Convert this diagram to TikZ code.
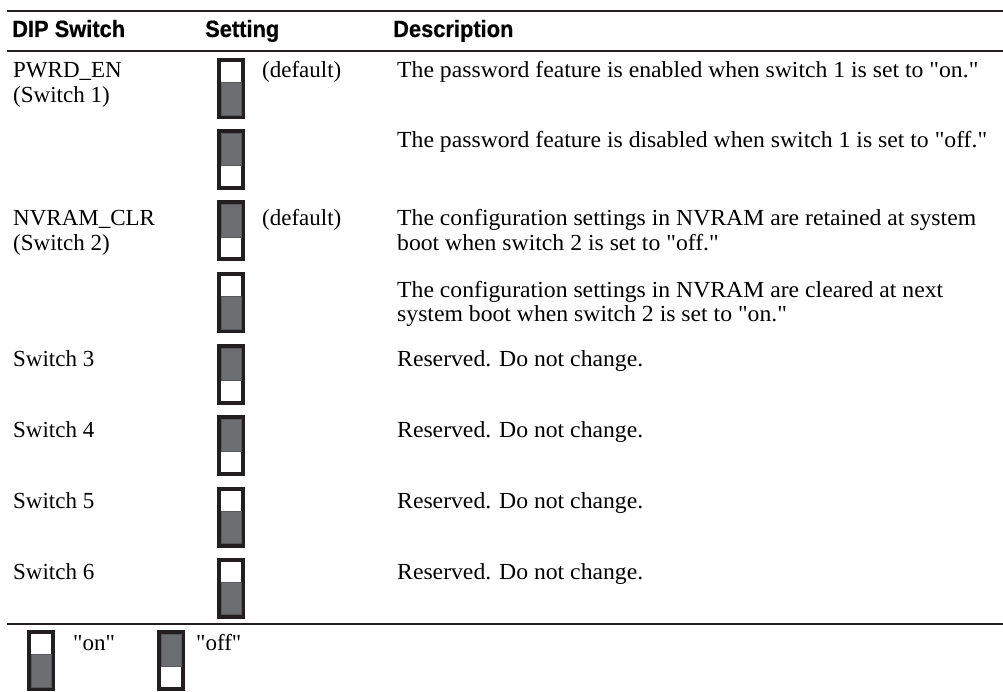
\documentclass[tikz,border=0pt]{standalone}
\usepackage{fontspec}
\setmainfont{Liberation Serif}[Ligatures=TeXOff]
\newfontfamily\descfont{Liberation Serif}[Ligatures=TeXOff, FakeStretch=1.03]
\newfontfamily\hdrfont{Liberation Sans Bold}[FakeStretch=0.93, FakeBold=0.6]
\definecolor{swdark}{HTML}{231F20}
\definecolor{swgray}{HTML}{6D6E71}
\definecolor{swedge}{HTML}{58595B}
\tikzset{
  body/.style={anchor=base west, inner sep=0pt, font=\fontsize{23}{24.5}\selectfont},
  desc/.style={anchor=base west, inner sep=0pt, font=\descfont\fontsize{23}{24.5}\selectfont},
  hdr/.style={anchor=base west, inner sep=0pt, font=\hdrfont\fontsize{23.5}{26}\selectfont},
  rule/.style={line width=2pt, swdark},
  swon/.pic={
    \fill[swdark] (0,0) rectangle (28,61);
    \fill[white] (4,4) rectangle (24,24.5);
    \filldraw[fill=swgray, draw=swedge, line width=0.8pt] (4,24.5) rectangle (24,57);
  },
  swoff/.pic={
    \fill[swdark] (0,0) rectangle (28,61);
    \fill[white] (4,36.5) rectangle (24,57);
    \filldraw[fill=swgray, draw=swedge, line width=0.8pt] (4,4) rectangle (24,36.5);
  }
}
\begin{document}
\begin{tikzpicture}[x=1pt,y=-1pt]
\useasboundingbox[fill=white] (0,0) rectangle (1003,692);
% rules
\coordinate (r1a) at (7,11);   \coordinate (r1b) at (1003,11);
\coordinate (r2a) at (7,51.5); \coordinate (r2b) at (1003,51.5);
\coordinate (r3a) at (7,624);  \coordinate (r3b) at (1003,624);
\draw[rule] (r1a) -- (r1b);
\draw[rule] (r2a) -- (r2b);
\draw[rule] (r3a) -- (r3b);
% header
\node[hdr] (h1) at (12,37) {DIP Switch};
\node[hdr] (h2) at (205,37) {Setting};
\node[hdr] (h3) at (393,37) {Description};
% row 1
\node[body] (n1a) at (13,78) {PWRD\_EN};
\node[body] (n1b) at (13,102.5) {(Switch 1)};
\pic at (217,58) {swon};
\node[body] (d1) at (262,78) {(default)};
\node[desc] (t1) at (397,78) {The password feature is enabled when switch 1 is set to "on."};
% row 2
\pic at (217,129) {swoff};
\node[desc] (t2) at (397,148) {The password feature is disabled when switch 1 is set to "off."};
% row 3
\node[body] (n3a) at (13,226) {NVRAM\_CLR};
\node[body] (n3b) at (13,250.5) {(Switch 2)};
\pic at (217,200.5) {swoff};
\node[body] (d3) at (262,226) {(default)};
\node[desc] (t3a) at (397,226) {The configuration settings in NVRAM are retained at system};
\node[desc] (t3b) at (397,250.5) {boot when switch 2 is set to "off."};
% row 4
\pic at (217,272) {swon};
\node[desc] (t4a) at (397,297.5) {The configuration settings in NVRAM are cleared at next};
\node[desc] (t4b) at (397,322) {system boot when switch 2 is set to "on."};
% rows 5-8
\node[body] (n5) at (13,366) {Switch 3};
\pic at (217,344) {swoff};
\node[desc] (t5) at (397,366) {Reserved. Do not change.};
\node[body] (n6) at (13,437) {Switch 4};
\pic at (217,415) {swoff};
\node[desc] (t6) at (397,437) {Reserved. Do not change.};
\node[body] (n7) at (13,508.5) {Switch 5};
\pic at (217,486.5) {swon};
\node[desc] (t7) at (397,508.5) {Reserved. Do not change.};
\node[body] (n8) at (13,579) {Switch 6};
\pic at (217,557.5) {swon};
\node[desc] (t8) at (397,579) {Reserved. Do not change.};
% legend
\pic at (27,630) {swon};
\node[body] (lon) at (73,650) {"on"};
\pic at (157,630) {swoff};
\node[body] (loff) at (196,650) {"off"};
\end{tikzpicture}
\end{document}
